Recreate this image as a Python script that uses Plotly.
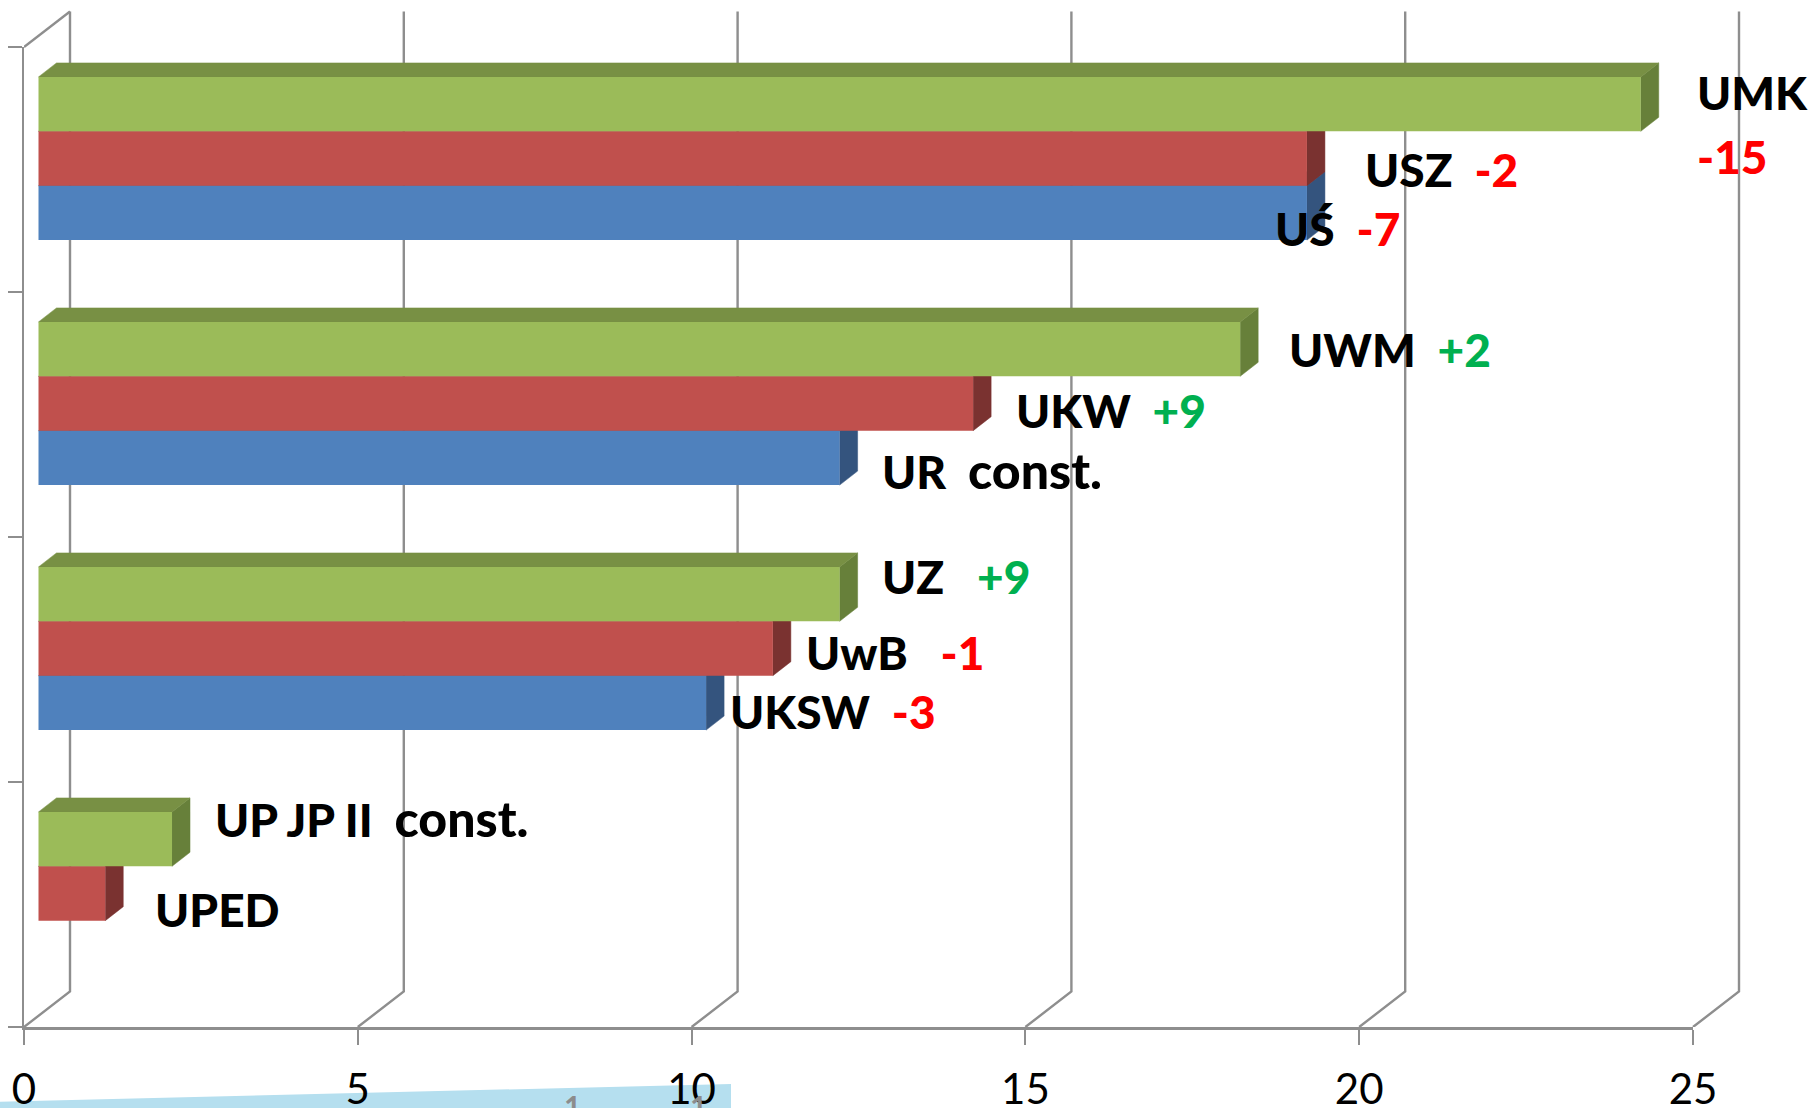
import plotly.graph_objects as go

# ---- data ----
band_index = [3, 2, 1, 0]                # category bands, bottom = 0
blue_names = ["UŚ", "UR", "UKSW", None]
blue_notes = ["-7", "const.", "-3", None]
blue_values = [19, 12, 10, None]
red_names = ["USZ", "UKW", "UwB", "UPED"]
red_notes = ["-2", "+9", "-1", None]
red_values = [19, 14, 11, 1]
green_names = ["UMK", "UWM", "UZ", "UP JP II"]
green_notes = ["-15", "+2", "+9", "const."]
green_values = [24, 18, 12, 2]
x_ticks = [0, 5, 10, 15, 20, 25]
y_ticks = [0, 1, 2, 3, 4]

# ---- geometry ----
W, H = 1813, 1108
ML, MB = 24, 81
X_END_PX, Y_TOP_PX = 1693, 47
UNIT_X = (X_END_PX - ML) / x_ticks[-1]
UNIT_Y = (H - MB - Y_TOP_PX) / y_ticks[-1]
WALL_DX, WALL_DY = 46 / UNIT_X, 35.5 / UNIT_Y
FRONT_DX, FRONT_DY = 14.5 / UNIT_X, 11 / UNIT_Y
BAR_DX, BAR_DY = 18 / UNIT_X, 14 / UNIT_Y
BAR_H = 54.4 / UNIT_Y
GRID = "#8E8E8E"
FONT = "Lato"
LABEL_SIZE = 46
LABEL_WEIGHT = 900
NEG, POS = "#FF0000", "#00B050"

plot_w, plot_h = W - ML, H - MB
x_range = [x_ticks[0], x_ticks[-1]]
y_range = [y_ticks[0], y_ticks[-1]]
wide_x_range = [0, plot_w / UNIT_X]
wide_y_range = [0, plot_h / UNIT_Y]


def paper_x(px):
    return (px - ML) / plot_w


def paper_y(py):
    return (H - MB - py) / plot_h


series = [
    ("blue", blue_values, -1, "#4F81BD", "#34547E", "#34547E"),
    ("red", red_values, 0, "#C0504D", "#7A3230", "#7A3230"),
    ("green", green_values, 1, "#9BBB59", "#67803A", "#789044"),
]

fig = go.Figure()


def poly(xs, ys, color):
    fig.add_trace(go.Scatter(x=xs, y=ys, mode="lines", fill="toself", fillcolor=color,
                             line=dict(color=color, width=0.5), hoverinfo="skip", showlegend=False))


def line(xs, ys, width=2.4):
    fig.add_trace(go.Scatter(x=xs, y=ys, mode="lines", line=dict(color=GRID, width=width),
                             hoverinfo="skip", showlegend=False))


# walls and floor (wide hidden axes, same scale as the visible ones)
for v in x_ticks:
    line([v, v + WALL_DX, v + WALL_DX], [0, WALL_DY, y_ticks[-1] + WALL_DY])
line([0, WALL_DX], [y_ticks[-1], y_ticks[-1] + WALL_DY])

# bar sides and tops, below the fronts
for name, values, pos, front, side, top in series:
    for b, v in zip(band_index, values):
        if v is None:
            continue
        yc = b + 0.5 + FRONT_DY + pos * BAR_H
        y1, y2 = yc - BAR_H / 2, yc + BAR_H / 2
        x1, x2 = FRONT_DX, FRONT_DX + v
        poly([x2, x2 + BAR_DX, x2 + BAR_DX, x2, x2], [y1, y1 + BAR_DY, y2 + BAR_DY, y2, y1], side)
        poly([x1, x1 + BAR_DX, x2 + BAR_DX, x2, x1], [y2, y2 + BAR_DY, y2 + BAR_DY, y2, y2], top)

# bar fronts, on the visible axes
for name, values, pos, front, side, top in series:
    ys = [b + 0.5 + FRONT_DY + pos * BAR_H for b, v in zip(band_index, values) if v is not None]
    xs = [v for v in values if v is not None]
    fig.add_trace(go.Bar(x=xs, y=ys, base=FRONT_DX, width=BAR_H, orientation="h", name=name,
                         marker=dict(color=front, line=dict(width=0)), xaxis="x2", yaxis="y2",
                         hoverinfo="skip", showlegend=False))


wide_gap = {"UZ", "UwB"}
label_font = dict(family=FONT, size=LABEL_SIZE, color="black", weight=LABEL_WEIGHT)


def note(name, text):
    if text is None:
        return ""
    gap = "\u00a0" * (3 if name in wide_gap else 2)
    if text == "const.":
        return f"{gap}<span style='font-size:50px'>{text}</span>"
    col = NEG if text.startswith("-") else POS
    return f"{gap}<span style='color:{col}'>{text}</span>"


# label offsets from the bar's front-right corner: (x px, y px up from the bar centre)
label_shift = {
    "UŚ": (-34, -16), "UR": (40, -12), "UKSW": (22, -9),
    "USZ": (56, -11), "UKW": (41, -7), "UwB": (31, -4), "UPED": (48, -16),
    "UWM": (47, 0), "UZ": (40, 18), "UP JP II": (41, 21),
}
for values, names, notes, pos in [(blue_values, blue_names, blue_notes, -1),
                                  (red_values, red_names, red_notes, 0),
                                  (green_values, green_names, green_notes, 1)]:
    for b, v, n, t in zip(band_index, values, names, notes):
        if v is None or n == "UMK":
            continue
        sx, sy = label_shift[n]
        fig.add_annotation(x=FRONT_DX + v, y=b + 0.5 + FRONT_DY + pos * BAR_H, xref="x2", yref="y2",
                           text=f"{n}{note(n, t)}", showarrow=False, xanchor="left", yanchor="middle",
                           xshift=sx, yshift=sy, font=label_font, align="left")
# the wrapped UMK label
fig.add_annotation(x=FRONT_DX + green_values[0], y=3.5 + FRONT_DY + BAR_H, xref="x2", yref="y2",
                   text=green_names[0], showarrow=False, xanchor="left", yanchor="middle",
                   xshift=54, yshift=12, font=label_font)
fig.add_annotation(x=FRONT_DX + green_values[0], y=3.5 + FRONT_DY + BAR_H, xref="x2", yref="y2",
                   text=f"<span style='color:{NEG}'>{green_notes[0]}</span>", showarrow=False,
                   xanchor="left", yanchor="middle", xshift=54, yshift=-52, font=label_font)

# cut-off fragment of another slide element at the bottom edge
fig.add_shape(type="path", xref="paper", yref="paper", layer="below",
              path=(f"M {paper_x(0)} {paper_y(1101.7)} L {paper_x(731)} {paper_y(1084)} "
                    f"L {paper_x(731)} {paper_y(H)} L {paper_x(0)} {paper_y(H)} Z"),
              fillcolor="#B5DFEF", line=dict(width=0))
for px in (572, 698):
    fig.add_annotation(x=paper_x(px), y=paper_y(1086), xref="paper", yref="paper", text="<b>1</b>", showarrow=False,
                       xanchor="center", yanchor="top",
                       font=dict(family=FONT, size=30, color="#8C8C8C"))

fig.update_layout(
    width=W, height=H, margin=dict(l=ML, r=0, t=0, b=MB, autoexpand=False), autosize=False,
    paper_bgcolor="white", plot_bgcolor="rgba(0,0,0,0)", showlegend=False, barmode="overlay",
    font=dict(family=FONT, color="black"),
    xaxis=dict(domain=[0, 1], range=wide_x_range, visible=False, anchor="y"),
    yaxis=dict(domain=[0, 1], range=wide_y_range, visible=False, anchor="x"),
    xaxis2=dict(domain=[0, paper_x(X_END_PX)], range=x_range, tickvals=x_ticks, ticks="outside", ticklen=15,
                tickwidth=2, tickcolor=GRID, showgrid=False, zeroline=False, showline=True, linecolor=GRID,
                linewidth=3, tickfont=dict(family=FONT, size=42, color="black"), ticklabelstandoff=9, anchor="y2"),
    yaxis2=dict(domain=[0, paper_y(Y_TOP_PX)], range=y_range, tickvals=y_ticks, ticks="outside", ticklen=14,
                tickwidth=2, tickcolor=GRID, showgrid=False, zeroline=False, showline=True, linecolor=GRID,
                linewidth=2.4, showticklabels=False, anchor="x2"),
)

fig.write_html("out.html", config={"displayModeBar": False},
               post_script="document.body.style.margin='0';")
